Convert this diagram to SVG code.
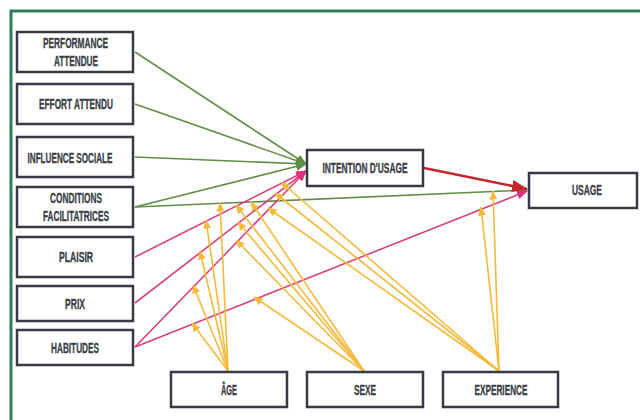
<svg xmlns="http://www.w3.org/2000/svg" width="640" height="420" viewBox="0 0 640 420">
<style>
.box{fill:#ffffff;stroke:#353a44;stroke-width:2.5}
.t{font-family:"Liberation Sans Narrow","Liberation Sans",Arial,sans-serif;font-weight:bold;font-size:14px;fill:#3a3e47;stroke:#3a3e47;stroke-width:0.35;text-anchor:middle}
.g{stroke:#5f8f45;stroke-width:1.6;fill:none;marker-end:url(#mg)}
.p{stroke:#d8407e;stroke-width:1.6;fill:none;marker-end:url(#mp)}
.r{stroke:#c3262c;stroke-width:2.6;fill:none;marker-end:url(#mr)}
.y{stroke:#f6b93a;stroke-width:1.6;fill:none;marker-end:url(#my)}
</style>
<defs>
<marker id="mg" markerUnits="userSpaceOnUse" markerWidth="11" markerHeight="9" refX="10" refY="4.5" orient="auto"><path d="M0,0 L11,4.5 L0,9 z" fill="#5f8f45"/></marker>
<marker id="mp" markerUnits="userSpaceOnUse" markerWidth="11" markerHeight="9" refX="10" refY="4.5" orient="auto"><path d="M0,0 L11,4.5 L0,9 z" fill="#e0307e"/></marker>
<marker id="mr" markerUnits="userSpaceOnUse" markerWidth="16" markerHeight="12" refX="15" refY="6" orient="auto"><path d="M0,0 L16,6 L0,12 z" fill="#c3262c"/></marker>
<marker id="my" markerUnits="userSpaceOnUse" markerWidth="9" markerHeight="8" refX="8.5" refY="4" orient="auto"><path d="M0,0 L9,4 L0,8 z" fill="#f6b93a"/></marker>
</defs>
<rect x="0" y="0" width="640" height="420" fill="#ffffff"/>
<rect x="11" y="11" width="650" height="430" fill="#ffffff" stroke="#2f7d5b" stroke-width="3"/>
<g id="connectors">
<line class="g" x1="135" y1="52" x2="306" y2="164"/>
<line class="g" x1="135" y1="104" x2="306" y2="164"/>
<line class="g" x1="135" y1="157" x2="306" y2="164"/>
<line class="g" x1="135" y1="207" x2="306" y2="164"/>
<line class="g" x1="135" y1="207" x2="527" y2="190"/>
<line class="p" x1="135" y1="257" x2="306" y2="171"/>
<line class="p" x1="135" y1="303" x2="306" y2="171"/>
<line class="p" x1="135" y1="347" x2="306" y2="171"/>
<line class="p" x1="135" y1="347" x2="527" y2="191"/>
<line class="r" x1="424" y1="168" x2="527" y2="189"/>
<line class="y" x1="228" y1="371" x2="206" y2="220"/>
<line class="y" x1="228" y1="371" x2="200" y2="251"/>
<line class="y" x1="228" y1="371" x2="193" y2="285"/>
<line class="y" x1="228" y1="371" x2="192" y2="323"/>
<line class="y" x1="228" y1="371" x2="220" y2="203"/>
<line class="y" x1="364" y1="371" x2="254" y2="297"/>
<line class="y" x1="364" y1="371" x2="236" y2="240"/>
<line class="y" x1="364" y1="371" x2="238" y2="222"/>
<line class="y" x1="364" y1="371" x2="236" y2="205"/>
<line class="y" x1="364" y1="371" x2="251" y2="202"/>
<line class="y" x1="499" y1="371" x2="268" y2="208"/>
<line class="y" x1="499" y1="371" x2="275" y2="193"/>
<line class="y" x1="499" y1="371" x2="281" y2="182"/>
<line class="y" x1="499" y1="371" x2="481" y2="207"/>
<line class="y" x1="499" y1="371" x2="493" y2="191"/>
</g>
<g id="performance"><rect class="box" x="17" y="32" width="116" height="40"/><text class="t" x="75.5" y="48" textLength="65" lengthAdjust="spacingAndGlyphs">PERFORMANCE</text><text class="t" x="76" y="66" textLength="44" lengthAdjust="spacingAndGlyphs">ATTENDUE</text></g>
<g id="effort"><rect class="box" x="17" y="84" width="116" height="40"/><text class="t" x="76" y="109" textLength="74" lengthAdjust="spacingAndGlyphs">EFFORT ATTENDU</text></g>
<g id="influence"><rect class="box" x="17" y="137" width="116" height="40"/><text class="t" x="70" y="162.5" textLength="85" lengthAdjust="spacingAndGlyphs">INFLUENCE SOCIALE</text></g>
<g id="conditions"><rect class="box" x="17" y="187" width="116" height="40"/><text class="t" x="76" y="203" textLength="52" lengthAdjust="spacingAndGlyphs">CONDITIONS</text><text class="t" x="76" y="221" textLength="66" lengthAdjust="spacingAndGlyphs">FACILITATRICES</text></g>
<g id="plaisir"><rect class="box" x="17" y="237" width="116" height="40"/><text class="t" x="76" y="262" textLength="34" lengthAdjust="spacingAndGlyphs">PLAISIR</text></g>
<g id="prix"><rect class="box" x="17" y="286" width="116" height="35"/><text class="t" x="75" y="309" textLength="20" lengthAdjust="spacingAndGlyphs">PRIX</text></g>
<g id="habitudes"><rect class="box" x="17" y="330" width="116" height="35"/><text class="t" x="75" y="353" textLength="48" lengthAdjust="spacingAndGlyphs">HABITUDES</text></g>
<g id="intention"><rect class="box" x="307" y="150" width="116" height="36"/><text class="t" x="365" y="173" textLength="85" lengthAdjust="spacingAndGlyphs">INTENTION D'USAGE</text></g>
<g id="usage"><rect class="box" x="529" y="173" width="108" height="35"/><text class="t" x="587" y="195" textLength="30" lengthAdjust="spacingAndGlyphs">USAGE</text></g>
<g id="age"><rect class="box" x="171" y="372" width="116" height="35"/><text class="t" x="229" y="395" textLength="16" lengthAdjust="spacingAndGlyphs">ÂGE</text></g>
<g id="sexe"><rect class="box" x="307" y="372" width="116" height="35"/><text class="t" x="365" y="395" textLength="22" lengthAdjust="spacingAndGlyphs">SEXE</text></g>
<g id="experience"><rect class="box" x="443" y="372" width="115" height="35"/><text class="t" x="501" y="395" textLength="53" lengthAdjust="spacingAndGlyphs">EXPERIENCE</text></g>
</svg>
